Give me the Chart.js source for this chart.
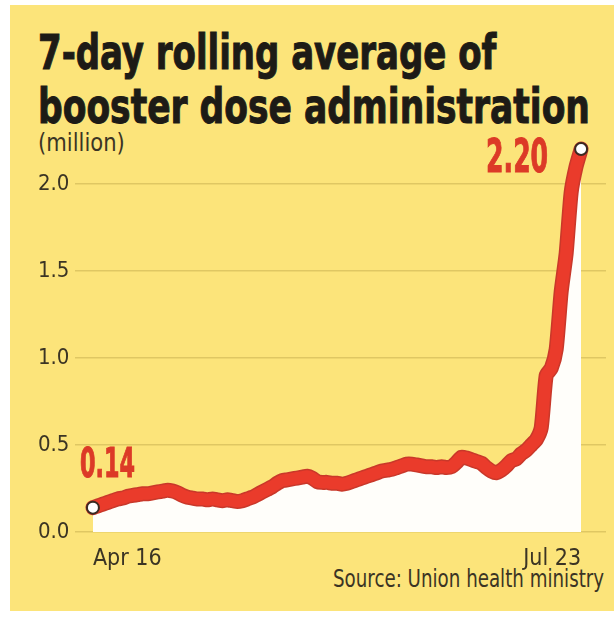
<!DOCTYPE html>
<html>
<head>
<meta charset="utf-8">
<script src="https://cdn.jsdelivr.net/npm/chart.js@4.4.0/dist/chart.umd.min.js"></script>
<style>
  html, body { margin: 0; padding: 0; background: #ffffff; }
  #wrap { position: relative; width: 614px; height: 618px; overflow: hidden; }
  #panel { position: absolute; left: 10px; top: 5px; width: 604px; height: 606px; background: #fce47a; }
  #chart { position: absolute; left: 0; top: 0; }
  .txt { position: absolute; white-space: nowrap; font-family: "Liberation Sans Narrow", "DejaVu Sans Condensed", sans-serif; }
  .title { left: 38px; font-size: 48px; line-height: 48px; font-weight: bold; color: #1d1b16; -webkit-text-stroke: 1px #1d1b16; transform-origin: left top; }
  #unit { left: 38px; top: 131px; font-size: 24px; line-height: 25px; color: #3b3424; transform-origin: left top; }
  #source { right: 10px; top: 566px; font-size: 25px; line-height: 25px; color: #3b3424; transform-origin: right top; }
</style>
</head>
<body>
<div id="wrap">
  <div id="panel"></div>
  <div class="txt title" id="t1" style="top:28px">7-day rolling average of</div>
  <div class="txt title" id="t2" style="top:82px">booster dose administration</div>
  <div class="txt" id="unit">(million)</div>
  <div class="txt" id="source">Source: Union health ministry</div>
  <canvas id="chart" width="614" height="618"></canvas>
</div>
<script>
// 7-day rolling average, million doses, one value per day Apr 16 .. Jul 23
var boosterDoses = [
  0.14, 0.15, 0.16, 0.17, 0.18, 0.19, 0.195, 0.205, 0.21, 0.215,
  0.22, 0.22, 0.225, 0.23, 0.235, 0.24, 0.235, 0.225, 0.21, 0.20,
  0.195, 0.19, 0.19, 0.185, 0.19, 0.185, 0.18, 0.185, 0.18, 0.175,
  0.18, 0.19, 0.20, 0.215, 0.23, 0.245, 0.26, 0.28, 0.295, 0.30,
  0.305, 0.31, 0.315, 0.32, 0.31, 0.29, 0.285, 0.285, 0.28, 0.28,
  0.275, 0.28, 0.29, 0.30, 0.31, 0.32, 0.33, 0.34, 0.35, 0.355,
  0.36, 0.37, 0.38, 0.39, 0.39, 0.385, 0.38, 0.375, 0.375, 0.37,
  0.375, 0.37, 0.375, 0.40, 0.43, 0.425, 0.415, 0.405, 0.395, 0.37,
  0.35, 0.34, 0.355, 0.38, 0.41, 0.42, 0.45, 0.47, 0.50, 0.53,
  0.60, 0.90, 0.94, 1.05, 1.38, 1.60, 1.95, 2.10, 2.20
];
var xTickDays = [0, 98];
var xTickLabels = ['Apr 16', 'Jul 23'];
var yTicks = [0, 0.5, 1.0, 1.5, 2.0];

var narrow = '"Liberation Sans Narrow", "DejaVu Sans Condensed", sans-serif';

// squeeze the html texts to the widths they have in the original
function squeeze(id, w) {
    var el = document.getElementById(id);
    el.style.transform = 'scaleX(' + (w / el.offsetWidth) + ')';
}
squeeze('t1', 458);
squeeze('t2', 552);
squeeze('unit', 87);
squeeze('source', 271);

var points = boosterDoses.map(function(v, i) { return { x: i, y: v }; });

// red value labels next to the first and last points
var endLabels = {
    id: 'endLabels',
    afterDatasetsDraw: function(chart) {
        var pts = chart.getDatasetMeta(0).data;
        var first = pts[0], last = pts[pts.length - 1];
        var c = chart.ctx;
        function put(text, x, y, align, size, w) {
            c.save();
            c.font = 'bold ' + size + 'px ' + narrow;
            var k = w / c.measureText(text).width;
            c.translate(x, y);
            c.scale(k, 1);
            c.fillStyle = '#dc3a27';
            c.strokeStyle = '#dc3a27';
            c.lineWidth = 1;
            c.textAlign = align;
            c.textBaseline = 'alphabetic';
            c.fillText(text, 0, 0);
            c.strokeText(text, 0, 0);
            c.restore();
        }
        put(boosterDoses[0].toFixed(2), first.x - 13, first.y - 31, 'left', 41, 55);
        put(boosterDoses[boosterDoses.length - 1].toFixed(2), last.x - 33, last.y + 23, 'right', 47, 62);
    }
};

var ctx = document.getElementById('chart').getContext('2d');
var myChart = new Chart(ctx, {
    type: 'line',
    data: {
        datasets: [{
            // main red line with the two end markers
            data: points,
            order: 0,
            borderColor: '#ea3b2b',
            borderWidth: 12,
            borderCapStyle: 'round',
            borderJoinStyle: 'round',
            tension: 0.2,
            fill: false,
            clip: false,
            pointRadius: function(c) { return (c.dataIndex === 0 || c.dataIndex === boosterDoses.length - 1) ? 6 : 0; },
            pointBackgroundColor: '#ffffff',
            pointBorderColor: '#3a2a22',
            pointBorderWidth: 2
        }, {
            // darker edge of the line + white area underneath
            data: points,
            order: 1,
            borderColor: '#c9382a',
            borderWidth: 15,
            borderCapStyle: 'round',
            borderJoinStyle: 'round',
            tension: 0.2,
            fill: 'origin',
            backgroundColor: '#fffefa',
            clip: false,
            pointRadius: 0
        }]
    },
    options: {
        responsive: false,
        animation: false,
        devicePixelRatio: 1,
        layout: { padding: { left: 38, right: 4, top: 149, bottom: 46 } },
        plugins: {
            legend: { display: false },
            tooltip: { enabled: false }
        },
        scales: {
            x: {
                type: 'linear',
                min: -3.6,
                max: 103,
                grid: { display: false },
                border: { display: false },
                afterBuildTicks: function(s) {
                    s.ticks = xTickDays.map(function(d) { return { value: d }; });
                },
                afterFit: function(s) { s.height = 40; },
                ticks: {
                    align: 'inner',
                    padding: 5,
                    maxRotation: 0,
                    color: '#3b3424',
                    font: { family: narrow, size: 23 },
                    callback: function(v, i) { return xTickLabels[i]; }
                }
            },
            y: {
                min: 0,
                max: 2.2,
                grid: { color: '#dfc763', lineWidth: 1.5, drawTicks: false },
                border: { display: false },
                afterBuildTicks: function(s) {
                    s.ticks = yTicks.map(function(v) { return { value: v }; });
                },
                afterFit: function(s) { s.width = 37; },
                ticks: {
                    crossAlign: 'far',
                    color: '#3b3424',
                    font: { family: narrow, size: 22 },
                    callback: function(v) { return Number(v).toFixed(1); }
                }
            }
        }
    },
    plugins: [endLabels]
});
</script>
</body>
</html>
